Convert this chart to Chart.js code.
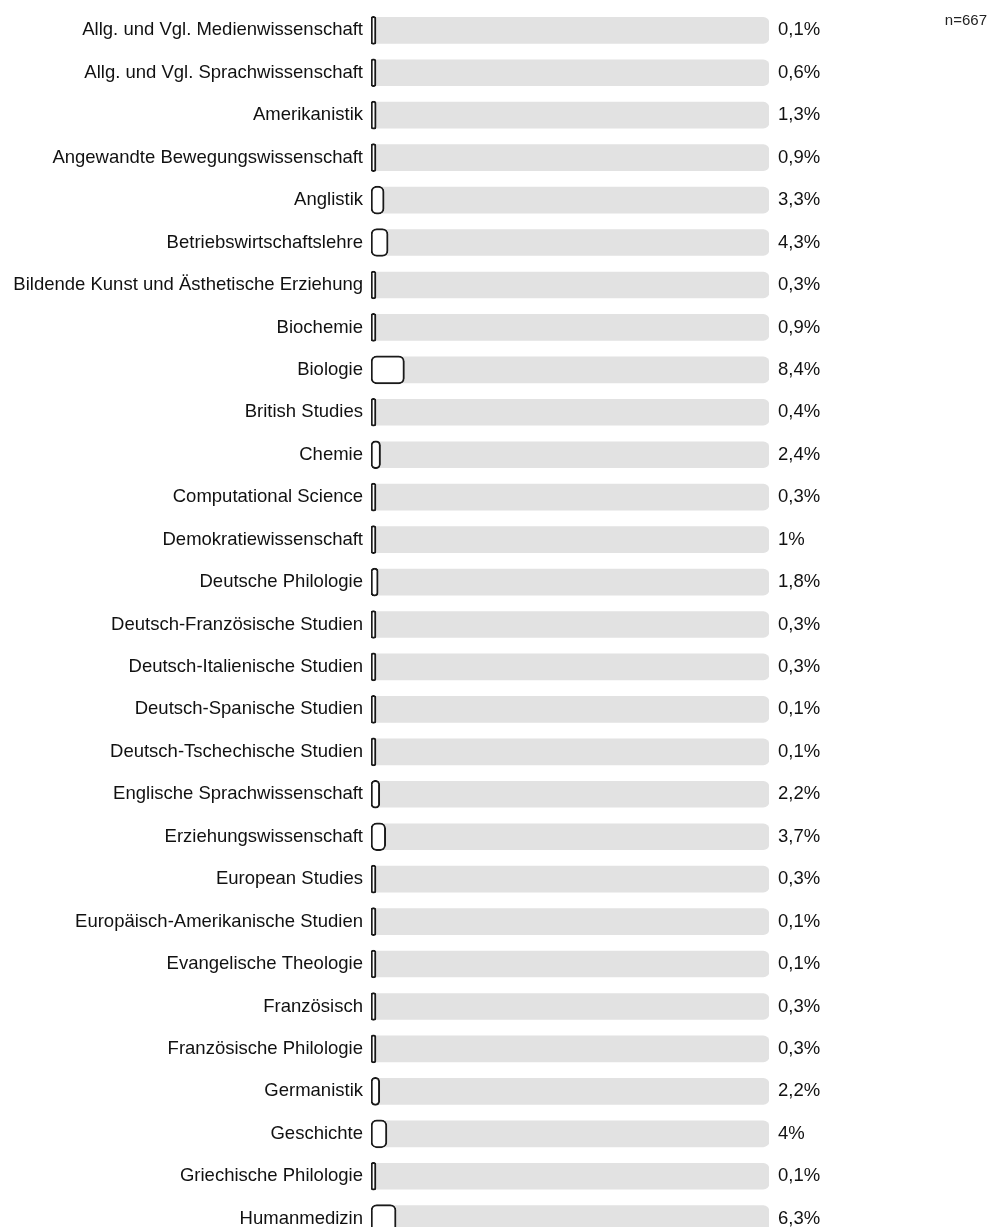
<!DOCTYPE html>
<html>
<head>
<meta charset="utf-8">
<script src="https://cdn.jsdelivr.net/npm/chart.js@4"></script>
<style>
  html, body { margin: 0; padding: 0; background: #fff; overflow: hidden; }
  #wrap { width: 1003px; height: 1271px; margin-top: -11px; }
</style>
</head>
<body>
<div id="wrap"><canvas id="myChart" width="1003" height="1271"></canvas></div>
<script>
var faecher = [
    'Allg. und Vgl. Medienwissenschaft',
    'Allg. und Vgl. Sprachwissenschaft',
    'Amerikanistik',
    'Angewandte Bewegungswissenschaft',
    'Anglistik',
    'Betriebswirtschaftslehre',
    'Bildende Kunst und Ästhetische Erziehung',
    'Biochemie',
    'Biologie',
    'British Studies',
    'Chemie',
    'Computational Science',
    'Demokratiewissenschaft',
    'Deutsche Philologie',
    'Deutsch-Französische Studien',
    'Deutsch-Italienische Studien',
    'Deutsch-Spanische Studien',
    'Deutsch-Tschechische Studien',
    'Englische Sprachwissenschaft',
    'Erziehungswissenschaft',
    'European Studies',
    'Europäisch-Amerikanische Studien',
    'Evangelische Theologie',
    'Französisch',
    'Französische Philologie',
    'Germanistik',
    'Geschichte',
    'Griechische Philologie',
    'Humanmedizin'
];
var anteile = [0.1, 0.6, 1.3, 0.9, 3.3, 4.3, 0.3, 0.9, 8.4, 0.4, 2.4, 0.3, 1, 1.8, 0.3, 0.3, 0.1, 0.1, 2.2, 3.7, 0.3, 0.1, 0.1, 0.3, 0.3, 2.2, 4, 0.1, 6.3];
var gesamt = faecher.map(function () { return 100; });
var nText = 'n=667';

var prozentLabels = anteile.map(function (v) {
    return String(v).replace('.', ',') + '%';
});

var fontFam = '"Liberation Sans", Arial, sans-serif';

// n-Angabe oben rechts (Canvas ist um 11px nach oben verschoben)
var nPlugin = {
    id: 'nLabel',
    afterDraw: function (chart) {
        var c = chart.ctx;
        c.save();
        c.font = '15px ' + fontFam;
        c.fillStyle = '#222';
        c.textAlign = 'right';
        c.textBaseline = 'middle';
        c.fillText(nText, chart.width - 16, 32);
        c.restore();
    }
};

var ctx = document.getElementById('myChart').getContext('2d');
new Chart(ctx, {
    type: 'bar',
    data: {
        labels: faecher,
        datasets: [{
            label: 'Anteil',
            data: anteile,
            backgroundColor: '#ffffff',
            borderColor: '#1a1a1a',
            borderWidth: 2,
            borderRadius: 6,
            borderSkipped: false,
            barThickness: 28,
            minBarLength: 5,
            grouped: false
        }, {
            label: 'Gesamt',
            data: gesamt,
            backgroundColor: '#e2e2e2',
            borderWidth: 0,
            borderRadius: 6,
            borderSkipped: false,
            barThickness: 26,
            grouped: false
        }]
    },
    options: {
        indexAxis: 'y',
        responsive: false,
        maintainAspectRatio: false,
        animation: false,
        layout: { padding: 0 },
        plugins: {
            legend: { display: false },
            tooltip: { enabled: false }
        },
        scales: {
            x: {
                display: false,
                min: 0,
                max: 100
            },
            y: {
                grid: { display: false, drawTicks: false },
                border: { display: false },
                ticks: {
                    color: '#111',
                    padding: 8,
                    font: { family: fontFam, size: 18.5 }
                },
                afterFit: function (scale) { scale.width = 371; }
            },
            y2: {
                type: 'category',
                position: 'right',
                labels: prozentLabels,
                grid: { display: false, drawTicks: false },
                border: { display: false },
                ticks: {
                    color: '#111',
                    padding: 9,
                    font: { family: fontFam, size: 18.5 }
                },
                afterFit: function (scale) { scale.width = 234; }
            }
        }
    },
    plugins: [nPlugin]
});
</script>
</body>
</html>
